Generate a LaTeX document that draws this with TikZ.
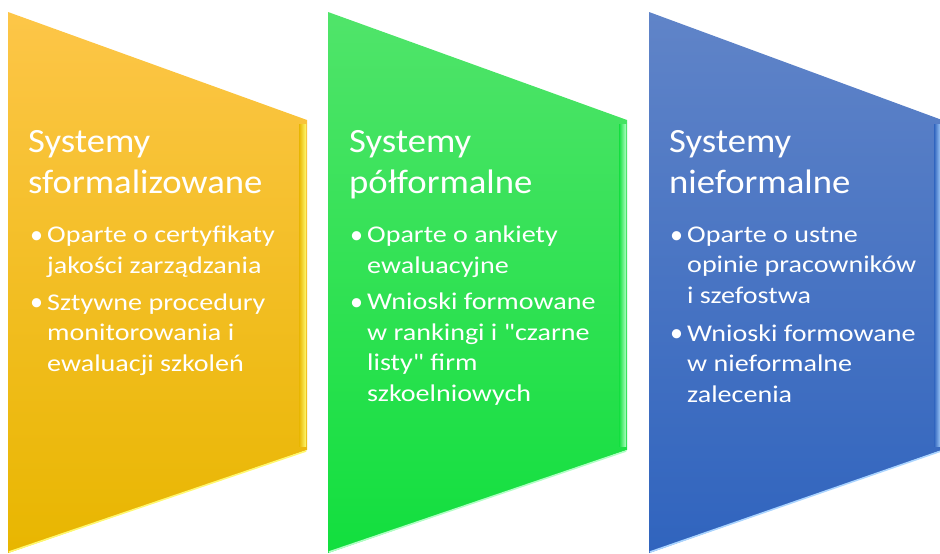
\documentclass[tikz,border=0pt]{standalone}
\usepackage{fontspec}
\setmainfont{Carlito}[Ligatures=TeXOff]
\newfontfamily\headfont{Carlito}[Ligatures=TeXOff, FakeStretch=1.08]
\newfontfamily\itemfont{Carlito}[Ligatures=TeXOff, FakeStretch=1.17]
\usetikzlibrary{positioning}
\definecolor{goldtop}{RGB}{253,198,72}
\definecolor{goldbot}{RGB}{232,182,0}
\definecolor{goldlite}{RGB}{255,248,110}
\definecolor{greentop}{RGB}{80,228,106}
\definecolor{greenbot}{RGB}{18,223,62}
\definecolor{greenlite}{RGB}{175,255,195}
\definecolor{bluetop}{RGB}{96,132,200}
\definecolor{bluebot}{RGB}{48,100,190}
\definecolor{bluelite}{RGB}{170,212,255}
% #1 left edge, #2 right edge, #3 colour prefix
\newcommand{\Chevron}[3]{%
  \shade[top color=#3top, bottom color=#3bot] (#1,12) -- (#2,120) -- (#2,450) -- (#1,553) -- cycle;
  \shade[left color=#3bot, right color=#3lite] (#2-8,124) rectangle (#2-1,446);
  \draw[#3lite, line width=1.6pt] (#2-1,451) -- (#1+1,552);
}

\begin{document}
\begin{tikzpicture}[
      x=1pt, y=-1pt,
      title/.style={anchor=base west, align=left, text=white, inner sep=0pt,
                    font=\headfont\fontsize{34}{41}\selectfont},
      body/.style={anchor=base west, align=left, text=white, inner sep=0pt,
                   font=\itemfont\fontsize{24}{30.5}\selectfont},
      dot/.style={body, font=\fontsize{26}{30.5}\selectfont}
    ]
      \useasboundingbox (0,0) rectangle (940,554);
      \Chevron{8}{307}{gold}
      \Chevron{328}{627}{green}
      \Chevron{649}{942}{blue}

      % multi-line nodes sit on the baseline of their last line
      \node[title] (ya) at (28,193) {Systemy\\sformalizowane};
      \node[dot] (yd1) at (30,243) {\textbullet};
      \node[body] (y1) at (47,273) {Oparte o certyfikaty\\jakości zarządzania};
      \node[dot] (yd2) at (30,310) {\textbullet};
      \node[body] (y2) at (47,371) {Sztywne procedury\\monitorowania i\\ewaluacji szkoleń};

      \node[title] (ga) at (349,193) {Systemy\\półformalne};
      \node[dot] (gd1) at (350,243) {\textbullet};
      \node[body] (g1) at (367,273) {Oparte o ankiety\\ewaluacyjne};
      \node[dot] (gd2) at (350,310) {\textbullet};
      \node[body] (g2) at (367,401) {Wnioski formowane\\w rankingi i "czarne\\listy" firm\\szkoelniowych};

      \node[title] (ba) at (669,193) {Systemy\\nieformalne};
      \node[dot] (bd1) at (670,243) {\textbullet};
      \node[body] (b1) at (687,303) {Oparte o ustne\\opinie pracowników\\i szefostwa};
      \node[dot] (bd2) at (670,341) {\textbullet};
      \node[body] (b2) at (687,402) {Wnioski formowane\\w nieformalne\\zalecenia};
    \end{tikzpicture}
\end{document}
